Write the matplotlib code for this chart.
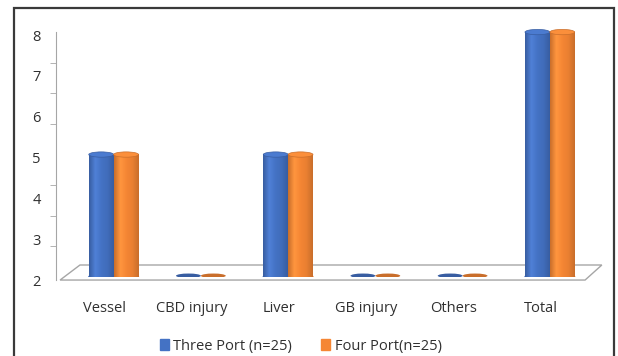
import numpy as np
import matplotlib
matplotlib.use("Agg")
import matplotlib.pyplot as plt
from matplotlib.patches import Ellipse, Rectangle, Polygon
from matplotlib.colors import LinearSegmentedColormap
from matplotlib.transforms import ScaledTranslation

plt.rcParams['font.family'] = ['Open Sans', 'DejaVu Sans']

categories = ["Vessel", "CBD injury", "Liver", "GB injury", "Others", "Total"]
three_port = [5, 0, 5, 0, 0, 8]
four_port = [5, 0, 5, 0, 0, 8]
series_names = ["Three Port (n=25)", "Four Port(n=25)"]
y_ticks = [2, 3, 4, 5, 6, 7, 8]

blue = "#4472c4"
orange = "#f58634"
text_col = "#303030"

fig = plt.figure(figsize=(6.18, 3.56), dpi=100)
ax = fig.add_axes([0.1133, 0.2219, 0.847, 0.688])
ymin, ymax = 2, 8


def shade(c):
    # soft shading across the cylinder body
    rgb = np.array(matplotlib.colors.to_rgb(c))
    dark = rgb * 0.82
    light = np.minimum(rgb * 1.06 + 0.03, 1)
    return LinearSegmentedColormap.from_list("cyl", [dark, light, rgb, rgb * 0.95, dark])


def cylinder(xc, w, val, color):
    top = max(val, ymin)
    cmap = shade(color)
    grad = np.linspace(0, 1, 64).reshape(1, -1)
    if top > ymin:
        ax.imshow(grad, cmap=cmap, aspect="auto", interpolation="bilinear",
                  extent=[xc - w / 2, xc + w / 2, ymin, top], zorder=3)
        ax.add_patch(Ellipse((xc, ymin), w, 0.13, color=cmap(0.5), zorder=2.9))
        ax.add_patch(Ellipse((xc, top), w, 0.13, facecolor=cmap(0.35),
                             edgecolor=cmap(0.0), lw=0.5, zorder=4, clip_on=False))
    else:
        ax.add_patch(Ellipse((xc, top + 0.03), w, 0.11, facecolor=cmap(0.0),
                             edgecolor="none", zorder=4))


x = np.arange(len(categories))
w = 0.285
for i in x:
    cylinder(i - w / 2, w, three_port[i], blue)
    cylinder(i + w / 2, w, four_port[i], orange)

ax.set_xlim(-0.5, len(categories) - 0.5)
ax.set_ylim(ymin, ymax)

# floor of the 3-D plot
floor = Polygon([(-0.019, -0.0124), (0.984, -0.0124), (1.016, 0.049), (0.019, 0.049)],
                closed=True, transform=ax.transAxes, facecolor="white",
                edgecolor="#a6a6a6", lw=1.0, clip_on=False, zorder=1)
ax.add_patch(floor)

for s in ["top", "right", "bottom"]:
    ax.spines[s].set_visible(False)
ax.spines["left"].set_position(("outward", 10))
ax.spines["left"].set_color("#a6a6a6")
ax.spines["left"].set_bounds(ymin - 0.07, ymax)

ax.set_yticks(y_ticks)
ax.set_yticks(np.linspace(ymin, ymax, 9), minor=True)
ax.tick_params(axis="y", which="major", length=0, pad=11, labelsize=10.5, colors=text_col)
ax.tick_params(axis="y", which="minor", length=4, color="#a6a6a6")
for lab in ax.get_yticklabels():
    lab.set_transform(lab.get_transform() + ScaledTranslation(0, -0.03, fig.dpi_scale_trans))

ax.set_xticks(x)
ax.set_xticklabels(categories)
ax.tick_params(axis="x", length=0, pad=17, labelsize=10.5, colors=text_col)
for lab in ax.get_xticklabels():
    lab.set_transform(lab.get_transform() + ScaledTranslation(-0.09, 0, fig.dpi_scale_trans))

handles = [Rectangle((0, 0), 1, 1, color=blue), Rectangle((0, 0), 1, 1, color=orange)]
fig.legend(handles, series_names, loc="center", bbox_to_anchor=(0.487, 0.028), ncol=2,
           frameon=False, fontsize=10.5, handlelength=0.6, handleheight=0.7,
           handletextpad=0.3, columnspacing=2.0, labelcolor=text_col)

# outer chart frame
fig.patches.append(Rectangle((0.022, -0.05), 0.972, 1.027, transform=fig.transFigure,
                             fill=False, edgecolor="#3a3a3a", lw=1.6))

fig.savefig("out.png", dpi=100)
